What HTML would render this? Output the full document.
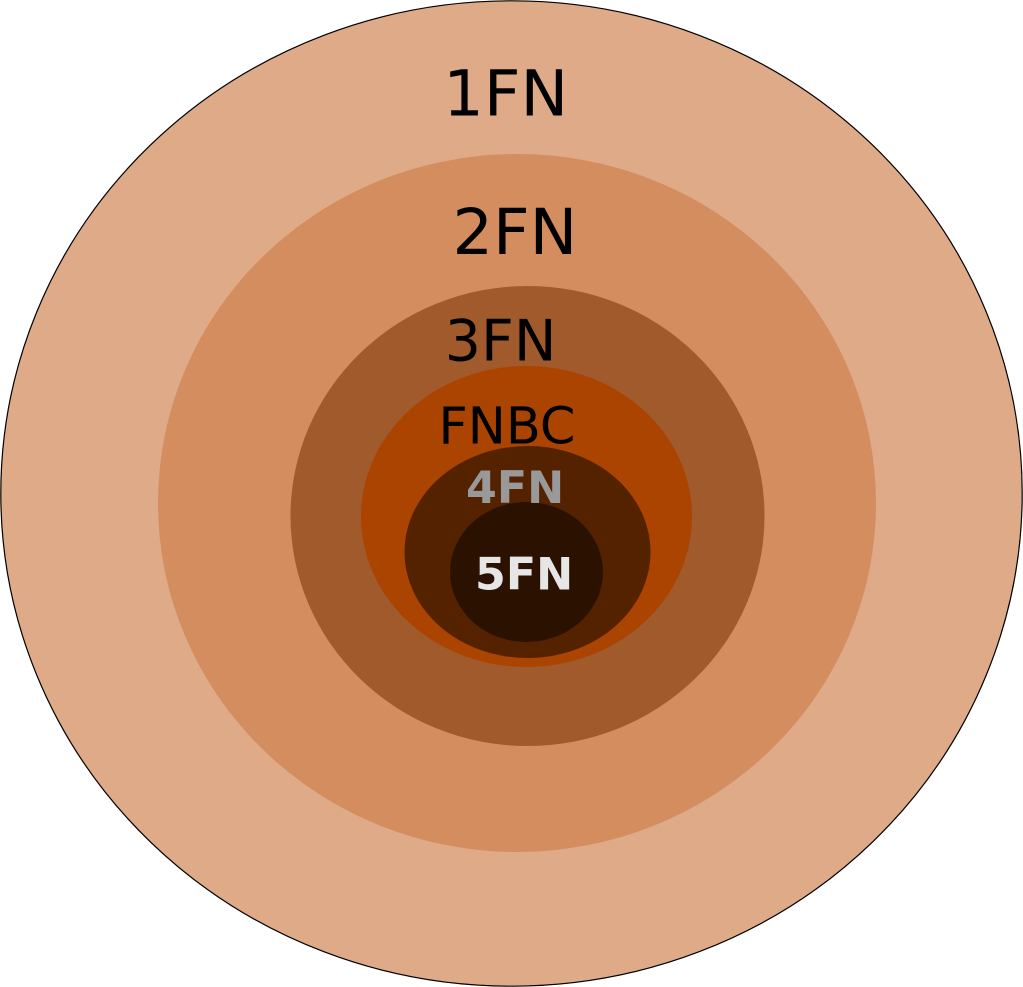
<!DOCTYPE html>
<html>
<head>
<meta charset="utf-8">
<style>
html,body{margin:0;padding:0;background:#fff;width:1023px;height:987px;overflow:hidden}
svg{display:block}
text{font-family:"DejaVu Sans",sans-serif}
</style>
</head>
<body>
<svg width="1023" height="987" viewBox="0 0 1023 987" xmlns="http://www.w3.org/2000/svg">
<ellipse cx="511.5" cy="493.5" rx="510.7" ry="492.7" fill="#dfaa88" stroke="#000" stroke-width="1.2"/>
<ellipse cx="517" cy="503" rx="359" ry="349" fill="#d38d5f"/>
<ellipse cx="527.5" cy="516" rx="237" ry="230" fill="#a05a2c"/>
<ellipse cx="526.5" cy="516.5" rx="165.5" ry="150.5" fill="#aa4400"/>
<ellipse cx="527.5" cy="552" rx="123" ry="106" fill="#552200"/>
<ellipse cx="526.5" cy="572" rx="76.5" ry="70" fill="#2b1100"/>
<text x="443.3" y="115.3" font-size="63.7" fill="#000">1FN</text>
<text x="452.5" y="253.8" font-size="63.7" fill="#000">2FN</text>
<text x="444.8" y="360.5" font-size="57" fill="#000">3FN</text>
<text x="438.5" y="443.5" font-size="50.9" fill="#000">FNBC</text>
<text x="466" y="503" font-size="44.3" font-weight="bold" fill="#999999">4FN</text>
<text x="475" y="589.7" font-size="44.3" font-weight="bold" fill="#e6e6e6">5FN</text>
</svg>
</body>
</html>
